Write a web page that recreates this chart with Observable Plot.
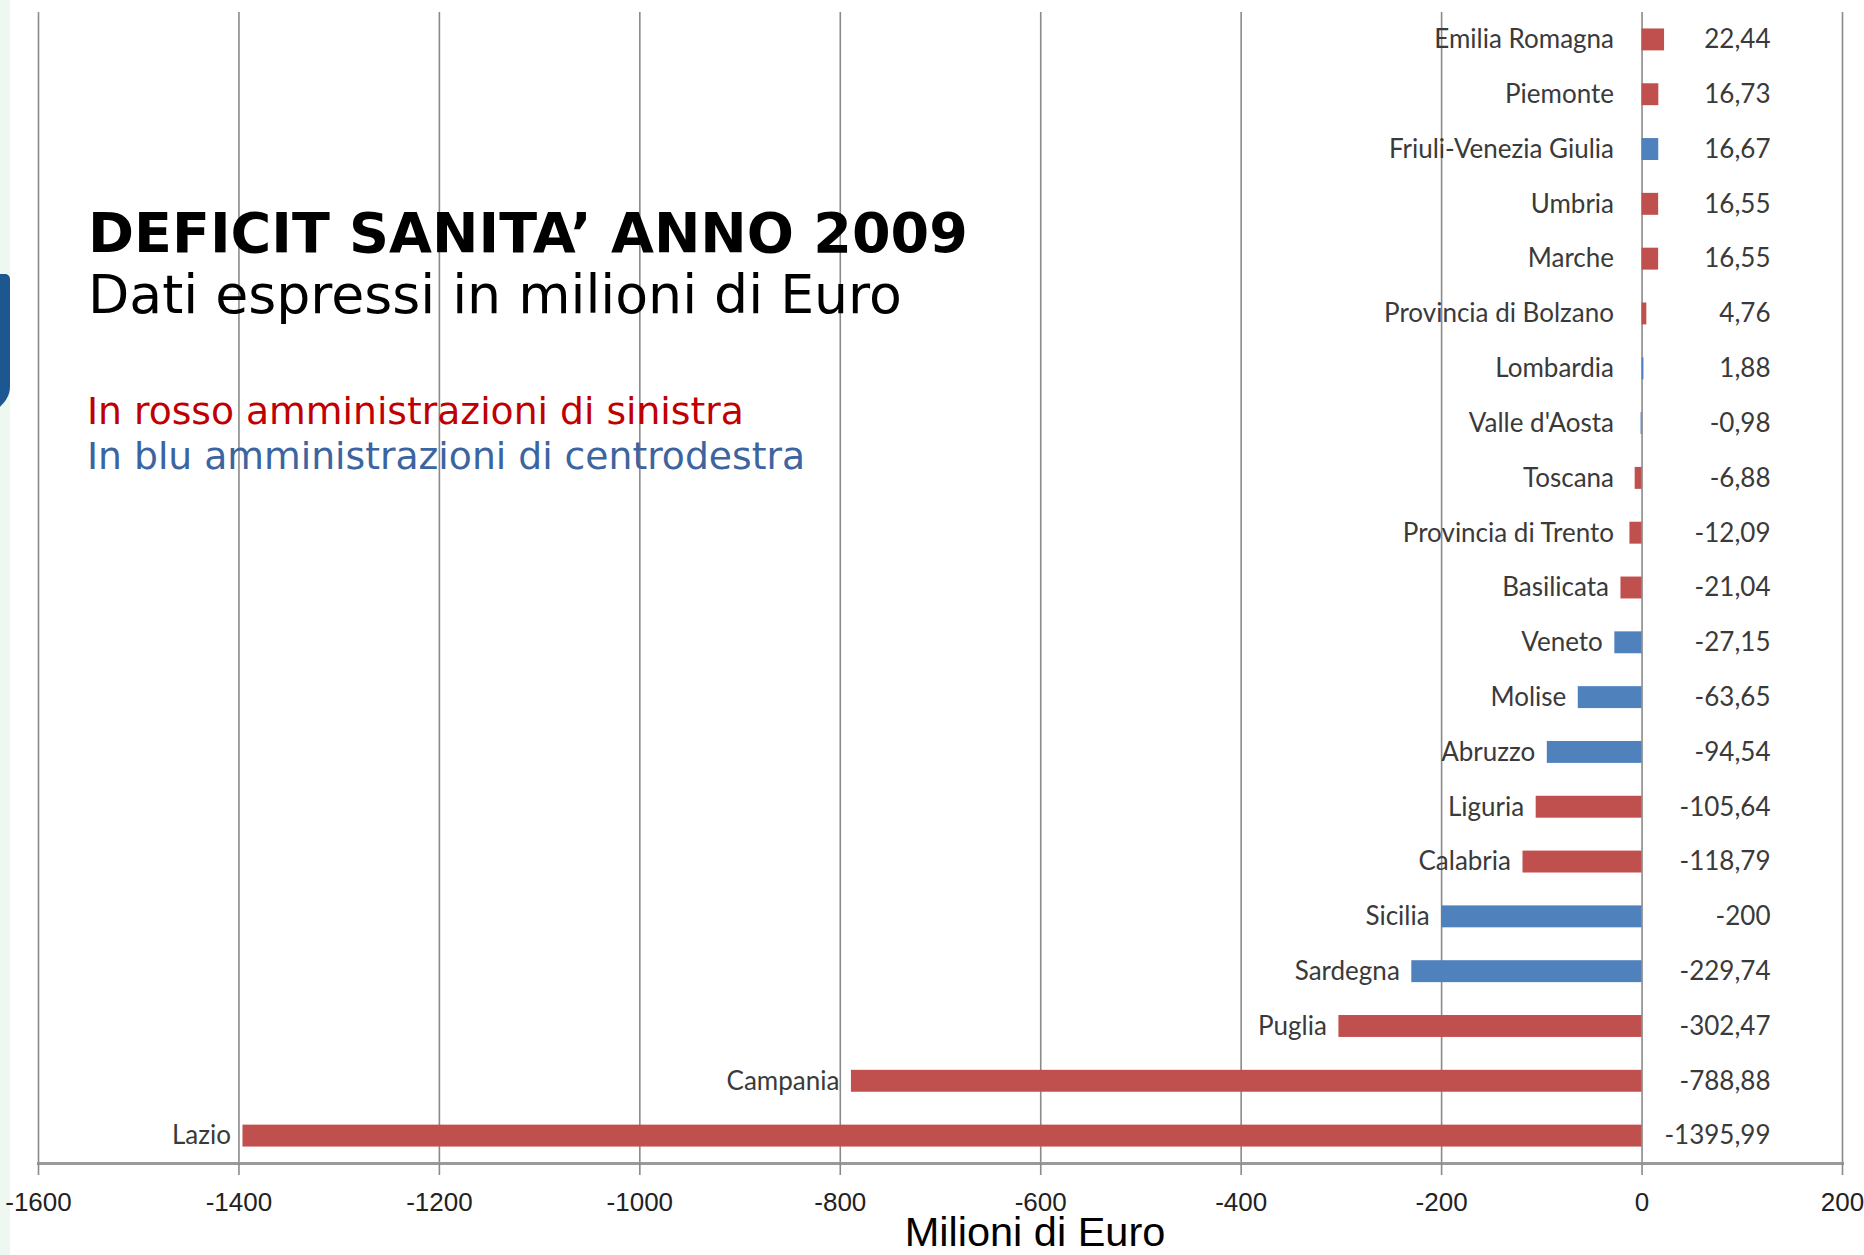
<!DOCTYPE html>
<html>
<head>
<meta charset="utf-8">
<script src="https://cdn.jsdelivr.net/npm/d3@7"></script>
<script src="https://cdn.jsdelivr.net/npm/@observablehq/plot@0.6"></script>
<style>
  html, body { margin: 0; padding: 0; background: #ffffff; }
  #wrap { position: relative; width: 1864px; height: 1255px; overflow: hidden; background: #ffffff; }
  #wrap svg { position: absolute; left: 0; top: 0; }
  .strip { position: absolute; left: 0; top: 0; width: 10px; height: 1255px; background: #eef7f0; }
  .logo { position: absolute; left: -40px; top: 274px; width: 50px; height: 146px; background: #1d5792;
          border-radius: 0 6px 60px 0 / 0 6px 40px 0; }
  .txt { position: absolute; white-space: nowrap; line-height: 1; font-family: "DejaVu Sans", Verdana, sans-serif; }
  #title { left: 88px; top: 205px; font-size: 55.5px; font-weight: bold; color: #000; }
  #subtitle { left: 88px; top: 268px; font-size: 53.7px; color: #000; }
  #red { left: 87px; top: 393px; font-size: 37.7px; color: #c00000; }
  #blue { left: 87px; top: 438px; font-size: 37.7px; color: #3b64a0; }
  #xlabel { left: 835px; width: 400px; text-align: center; top: 1209px; font-size: 41.5px; line-height: 46px; color: #000;
            font-family: "Liberation Sans", Arial, sans-serif; }
</style>
</head>
<body>
<div id="wrap">
  <div class="strip"></div>
  <div class="logo"></div>
</div>
<script>
// ---- data ----
const regions = [
  "Emilia Romagna", "Piemonte", "Friuli-Venezia Giulia", "Umbria", "Marche",
  "Provincia di Bolzano", "Lombardia", "Valle d'Aosta", "Toscana", "Provincia di Trento",
  "Basilicata", "Veneto", "Molise", "Abruzzo", "Liguria",
  "Calabria", "Sicilia", "Sardegna", "Puglia", "Campania", "Lazio"
];
const deficits = [
  22.44, 16.73, 16.67, 16.55, 16.55,
  4.76, 1.88, -0.98, -6.88, -12.09,
  -21.04, -27.15, -63.65, -94.54, -105.64,
  -118.79, -200, -229.74, -302.47, -788.88, -1395.99
];
const coalitions = [
  "sinistra", "sinistra", "centrodestra", "sinistra", "sinistra",
  "sinistra", "centrodestra", "centrodestra", "sinistra", "sinistra",
  "sinistra", "centrodestra", "centrodestra", "centrodestra", "sinistra",
  "sinistra", "centrodestra", "centrodestra", "sinistra", "sinistra", "sinistra"
];
const xTicks = [-1600, -1400, -1200, -1000, -800, -600, -400, -200, 0, 200];
const titleText = "DEFICIT SANITA’ ANNO 2009";
const subtitleText = "Dati espressi in milioni di Euro";
const legendRed = "In rosso amministrazioni di sinistra";
const legendBlue = "In blu amministrazioni di centrodestra";
const xAxisTitle = "Milioni di Euro";

const data = regions.map((r, i) => ({
  region: r,
  value: deficits[i],
  coalition: coalitions[i],
  label: Number.isInteger(deficits[i]) ? String(deficits[i]) : deficits[i].toFixed(2).replace(".", ",")
}));

const labelFont = "Lato, Carlito, Calibri, sans-serif";
const axisFont = "'Liberation Sans', Arial, sans-serif";

const chart = Plot.plot({
  width: 1864,
  height: 1255,
  marginLeft: 38,
  marginRight: 22,
  marginTop: 12,
  marginBottom: 92,
  style: { background: "transparent", color: "#333" },
  x: { domain: [-1600, 200], ticks: xTicks, label: null },
  y: { domain: regions, paddingInner: 0.6, paddingOuter: 0.3, round: false, axis: null, label: null },
  color: { domain: ["sinistra", "centrodestra"], range: ["#c0504d", "#4f81bd"] },
  marks: [
    Plot.gridX(xTicks, { stroke: "#8a8a8a", strokeOpacity: 1, strokeWidth: 1.6 }),
    Plot.barX(data, { x: "value", y: "region", fill: "coalition" }),
    Plot.frame({ anchor: "bottom", stroke: "#9a9a9a", strokeWidth: 3 }),
    Plot.axisX({
      ticks: xTicks, tickSize: 12, tickPadding: 17, stroke: "#8a8a8a", strokeWidth: 1.6,
      tickFormat: d => String(d), fontSize: 26, fontFamily: axisFont, fill: "#222"
    }),
    Plot.text(data, {
      x: d => Math.min(d.value, -16), y: "region", text: "region",
      textAnchor: "end", dx: -12, fontSize: 26, fontFamily: labelFont, fill: "#3a3a3a"
    }),
    Plot.text(data, {
      y: "region", text: "label", frameAnchor: "right",
      textAnchor: "end", dx: -72, fontSize: 26, fontFamily: labelFont, fill: "#3a3a3a"
    })
  ]
});

const wrap = document.getElementById("wrap");
wrap.appendChild(chart);
const add = (id, t) => { const d = document.createElement("div"); d.id = id; d.className = "txt"; d.textContent = t; wrap.appendChild(d); };
add("title", titleText);
add("subtitle", subtitleText);
add("red", legendRed);
add("blue", legendBlue);
add("xlabel", xAxisTitle);
</script>
</body>
</html>
